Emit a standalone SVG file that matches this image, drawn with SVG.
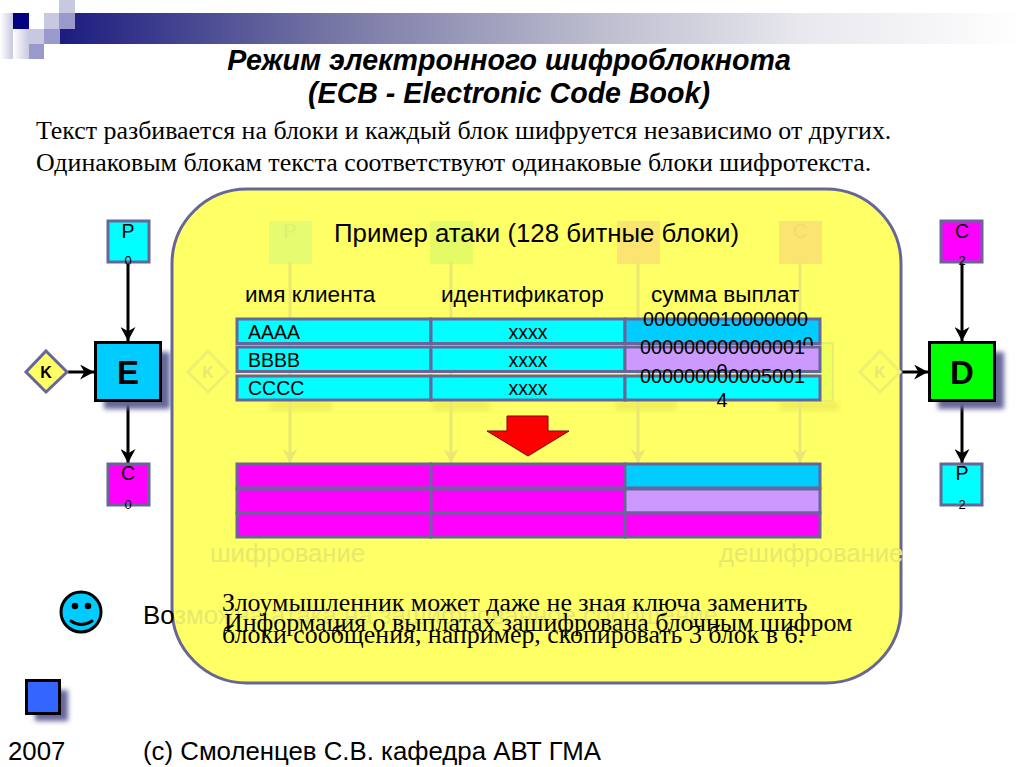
<svg xmlns="http://www.w3.org/2000/svg" width="1024" height="767" viewBox="0 0 1024 767">
<style>
.s{font-family:"Liberation Sans",Arial,sans-serif;fill:#000}
.t{font-family:"Liberation Serif","Times New Roman",serif;fill:#000}
.box{stroke:#666699;stroke-width:3}
.blk{stroke:#000;stroke-width:3}
.c{stroke:#000;stroke-width:3;fill:none;marker-end:url(#a)}
.g{stroke:#e8e872;stroke-width:3;fill:none;marker-end:url(#ag)}
.cy{fill:#00ffff}.mg{fill:#ff00ff}.bl{fill:#00ccff}.li{fill:#cc99ff}
.lab{font-size:19.500px;text-anchor:middle}
.sub{font-size:13px;text-anchor:middle}
.r{font-size:19.500px}
.d{font-size:19.800px}
.k{font-size:16px;font-weight:bold;text-anchor:middle}
.big{font-size:33px;font-weight:bold;text-anchor:middle}
.gt{fill:#e8e870}
.gs{fill:#f0f05c}
</style>
<defs>
<linearGradient id="bar" x1="0" x2="1" y1="0" y2="0"><stop offset="0" stop-color="#1c1c80"/><stop offset=".29" stop-color="#7878a6"/><stop offset=".56" stop-color="#bdbdcf"/><stop offset=".77" stop-color="#e8e8ee"/><stop offset="1" stop-color="#ffffff"/></linearGradient>
<linearGradient id="lg" x1="1" x2="0" y1="0" y2="0"><stop offset="0" stop-color="#c8c8e0"/><stop offset="1" stop-color="#ffffff"/></linearGradient>
<filter id="sh" x="-20%" y="-20%" width="150%" height="150%"><feGaussianBlur stdDeviation="2.500"/></filter>
<marker id="a" viewBox="0 0 14 14" refX="13" refY="7" markerWidth="15" markerHeight="15" markerUnits="userSpaceOnUse" orient="auto"><path d="M0 0L13 7L0 14L4 7Z" fill="#000"/></marker>
<marker id="ag" viewBox="0 0 14 14" refX="13" refY="7" markerWidth="15" markerHeight="15" markerUnits="userSpaceOnUse" orient="auto"><path d="M0 0L13 7L0 14L4 7Z" fill="#e8e872"/></marker>
</defs>

<rect width="1024" height="767" fill="#fff"/>
<g id="header">
<rect x="60" y="13" width="964" height="31" fill="url(#bar)"/>
<rect x="0" y="13" width="13" height="46" fill="url(#lg)"/>
<rect x="13" y="29" width="16" height="30" fill="url(#lg)"/>
<rect x="13" y="13" width="16" height="16" fill="#000080"/>
<rect x="44" y="13" width="15" height="16" fill="#c8c8e0"/>
<rect x="59" y="13" width="16" height="16" fill="#9999cc"/>
<rect x="59" y="0" width="16" height="13" fill="#c8c8e0"/>
<rect x="29" y="29" width="15" height="15" fill="#c8c8e0"/>
<rect x="44" y="29" width="16" height="15" fill="#9999cc"/>
<rect x="29" y="44" width="15" height="15" fill="#9999cc"/>
</g>

<g id="title" class="s" font-size="28.600" font-weight="bold" font-style="italic" text-anchor="middle">
<text x="509" y="70">Режим электронного шифроблокнота</text>
<text x="509" y="103">(ECB - Electronic Code Book)</text>
</g>
<g id="intro" class="t" font-size="25.900">
<text x="36" y="139">Текст разбивается на блоки и каждый блок шифруется независимо от других.</text>
<text x="36" y="171">Одинаковым блокам текста соответствуют одинаковые блоки шифротекста.</text>
</g>

<g id="connectors">
<path class="c" d="M128 262V341"/>
<path class="c" d="M68 372H94"/>
<path class="c" d="M128 401V463"/>
<path class="c" d="M962 262V341"/>
<path class="c" d="M902 372H928"/>
<path class="c" d="M962 401V463"/>
</g>

<g id="node-p0"><rect class="box cy" x="108" y="221" width="41" height="41"/><text class="s lab" x="128" y="238">P</text><text class="s sub" x="128" y="265">0</text></g>
<g id="node-k-left"><path class="box" fill="#ffff66" d="M46 351L67 372L46 392L26 372Z"/><text class="s k" x="46" y="377.500">K</text></g>
<g id="node-e"><rect x="104" y="352" width="66" height="57" fill="#666699" filter="url(#sh)"/><rect class="blk bl" x="95.500" y="342.500" width="65" height="58"/><text class="s big" x="128" y="384">E</text></g>
<g id="node-c0"><rect class="box mg" x="108" y="464" width="41" height="41"/><text class="s lab" x="128" y="480">C</text><text class="s sub" x="128" y="509">0</text></g>

<g id="node-c2"><rect class="box mg" x="941" y="221" width="41" height="41"/><text class="s lab" x="962" y="238">C</text><text class="s sub" x="962" y="265">2</text></g>
<g id="node-d"><rect x="938" y="352" width="66" height="57" fill="#666699" filter="url(#sh)"/><rect class="blk" fill="#00ff00" x="929.500" y="342.500" width="65" height="58"/><text class="s big" x="962" y="384">D</text></g>
<g id="node-p2"><rect class="box cy" x="941" y="464" width="41" height="41"/><text class="s lab" x="962" y="480">P</text><text class="s sub" x="962" y="509">2</text></g>

<g id="panel"><rect x="172" y="189" width="729" height="494" rx="75" ry="75" fill="#ffff66" stroke="#666699" stroke-width="3"/></g>

<g id="ghosts">
<rect x="270" y="401" width="62" height="10" class="gs" filter="url(#sh)"/>
<rect x="432" y="401" width="58" height="10" class="gs" filter="url(#sh)"/>
<rect x="615" y="401" width="62" height="10" class="gs" filter="url(#sh)"/>
<rect x="779" y="401" width="60" height="10" class="gs" filter="url(#sh)"/>
<rect x="269" y="221" width="43" height="43" fill="#e6fb70"/>
<rect x="430" y="221" width="43" height="43" fill="#e4fb66"/>
<rect x="617" y="221" width="43" height="43" fill="#fbe470"/>
<rect x="779" y="221" width="43" height="43" fill="#fbe470"/>
<path d="M208 351L228 372L208 392L188 372Z" fill="none" stroke="#f0f070" stroke-width="3"/>
<path d="M880 351L900 372L880 392L860 372Z" fill="none" stroke="#f0f070" stroke-width="3"/>
<text x="208" y="377.500" class="s k" style="fill:#e8e872">K</text>
<text x="880" y="377.500" class="s k" style="fill:#e8e872">K</text>
<text x="290" y="238" class="s lab" style="fill:#e4ee70">P</text>
<text x="800" y="238" class="s lab" style="fill:#f4dc6c">C</text>
<path class="g" d="M290 262V463"/>
<path class="g" d="M451 262V463"/>
<path class="g" d="M638 262V463"/>
<path class="g" d="M800 262V463"/>
<rect x="775" y="343" width="58" height="58" fill="#f0ff60" stroke="#e8ee70" stroke-width="2"/>
<text x="210" y="562" font-size="25.700" class="s gt">шифрование</text>
<text x="719" y="562" font-size="25.700" class="s gt">дешифрование</text>
</g>

<g id="note-text"><text class="s" font-size="25.800" x="143" y="624">Во<tspan class="gt">зможна атака на зашифрованное сообщение</tspan></text></g>

<g id="panel-title"><text class="s" font-size="25.800" x="334" y="242">Пример атаки (128 битные блоки)</text></g>
<g id="col-heads" class="s" font-size="22.600">
<text x="245" y="302">имя клиента</text>
<text x="441" y="302">идентификатор</text>
<text x="651" y="302">сумма выплат</text>
</g>

<g id="table-top">
<rect class="box cy" x="237" y="319" width="194" height="24.500"/><rect class="box cy" x="431" y="319" width="194" height="24.500"/><rect class="box bl" x="625" y="319" width="195" height="24.500"/>
<text class="s d" x="643" y="326">000000010000000</text><text class="s d" text-anchor="middle" x="808" y="351">0</text>
<rect class="box cy" x="237" y="347" width="194" height="24.500"/><rect class="box cy" x="431" y="347" width="194" height="24.500"/><rect class="box li" x="625" y="347" width="195" height="24.500"/>
<text class="s d" x="640" y="354">000000000000001</text><text class="s d" text-anchor="middle" x="722" y="378">0</text>
<rect class="box cy" x="237" y="376" width="194" height="24"/><rect class="box cy" x="431" y="376" width="194" height="24"/><rect class="box cy" x="625" y="376" width="195" height="24"/>
<text class="s d" x="640" y="383">000000000005001</text><text class="s d" text-anchor="middle" x="722" y="407">4</text>
<text class="s r" x="248" y="339">AAAA</text><text class="s r" x="248" y="367">BBBB</text><text class="s r" x="248" y="395">CCCC</text>
<text class="s r" text-anchor="middle" x="528" y="339">xxxx</text><text class="s r" text-anchor="middle" x="528" y="367">xxxx</text><text class="s r" text-anchor="middle" x="528" y="395">xxxx</text>
</g>

<g id="red-arrow"><path d="M507 416H548V431H569L528 456L487 431H507Z" fill="#ff0000" stroke="#800000" stroke-width="1"/></g>

<g id="table-bottom">
<rect class="box mg" x="237" y="464" width="194" height="24"/><rect class="box mg" x="431" y="464" width="194" height="24"/><rect class="box bl" x="625" y="464" width="195" height="24"/>
<rect class="box mg" x="237" y="489" width="194" height="24"/><rect class="box mg" x="431" y="489" width="194" height="24"/><rect class="box li" x="625" y="489" width="195" height="24"/>
<rect class="box mg" x="237" y="513" width="194" height="24"/><rect class="box mg" x="431" y="513" width="194" height="24"/><rect class="box mg" x="625" y="513" width="195" height="24"/>
</g>

<g id="overlay-text" class="t" font-size="25.900">
<text x="222" y="611">Злоумышленник может даже не зная ключа заменить</text>
<text x="224" y="631">Информация о выплатах зашифрована блочным шифром</text>
<text x="222" y="643">блоки сообщения, например, скопировать 3 блок в 6.</text>
</g>

<g id="smiley"><circle cx="81" cy="612" r="20" fill="#00ccff" stroke="#000" stroke-width="3"/><circle cx="75" cy="606" r="3.300" fill="#000"/><circle cx="88" cy="606" r="3.300" fill="#000"/><path d="M71 621Q81 628 92 621" fill="none" stroke="#000" stroke-width="3" stroke-linecap="round"/></g>
<g id="nav-button"><rect x="35" y="690" width="33" height="31" fill="#666699" filter="url(#sh)"/><rect class="blk" fill="#3366ff" x="26.500" y="680.500" width="33" height="33"/></g>

<g id="footer" class="s" font-size="25.800">
<text x="8" y="760">2007</text>
<text x="143" y="760">(с) Смоленцев С.В. кафедра АВТ ГМА</text>
</g>
</svg>
